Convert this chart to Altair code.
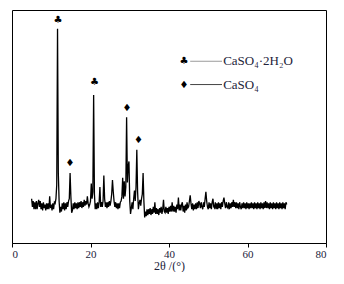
import altair as alt
import pandas as pd

# XRD pattern: intensity sampled every 0.2 degrees from 5.0 to 70.0 (2-theta)
x_start = 5.0
x_step = 0.2
intensity = [
    19, 15.5, 18, 14.5, 17.5, 14.5, 18, 14.5, 17, 18.5,
    15.5, 18, 14.5, 17, 14, 17.5, 15, 16.5, 14, 17,
    14.5, 17, 14.5, 20, 15, 16.5, 14, 17, 14.5, 17.5,
    17, 19, 25, 92, 30, 18, 13, 15.5, 13.5, 17,
    14.5, 17.5, 14, 17, 14.5, 17.5, 15.5, 18, 19, 30,
    20, 13, 14, 17, 14.5, 17.5, 15, 17, 14.5, 17.5,
    15, 17.5, 15.5, 18, 15, 17.5, 15.5, 18.5, 16, 18,
    16.5, 20, 17, 15.5, 16.5, 18, 25.5, 19, 22, 63.5,
    21, 14.5, 17, 14.5, 17.5, 15, 17.5, 24, 15.5, 17.5,
    15.5, 18, 29, 19, 15.5, 17.5, 15, 17.5, 15.5, 18,
    16, 18, 21, 27, 22, 18, 15.5, 17.5, 15, 17,
    14.5, 17, 15, 17.5, 18, 20, 28, 19, 26.5, 20,
    24, 54, 26, 33, 35, 18, 12.5, 15, 17.5, 14.5,
    19, 22.5, 18, 24, 40, 22, 14.5, 17, 18.5, 16,
    19, 21, 30, 18, 11, 13.5, 11.5, 14.5, 12, 14.5,
    12.5, 15, 12, 14.5, 12.5, 15.5, 13, 17.5, 12.5, 15,
    12.5, 14.5, 12, 15, 13, 15.5, 12.5, 14.5, 18.5, 13.5,
    13, 15.5, 13, 15, 12.5, 15.5, 13.5, 16, 13.5, 17.5,
    13.5, 16, 13.5, 15.5, 13, 16.5, 14.5, 19.5, 14, 16.5,
    14, 16.5, 17.5, 13.5, 16, 13, 16.5, 14, 17.5, 15,
    15.5, 18, 20.5, 17, 14.5, 17, 14, 16.5, 14.5, 17,
    14.5, 17.5, 15, 18, 17, 15, 17.5, 15.5, 14.5, 17.5,
    15.5, 19, 22, 18, 15.5, 14.5, 17.5, 15, 17, 14.5,
    17.5, 19, 15.5, 15, 17.5, 14.5, 17, 14.5, 17.5, 15,
    17, 14.5, 17.5, 15.5, 18, 19.5, 17, 15, 17.5, 15.5,
    15, 17.5, 14.5, 17, 15, 17.5, 15.5, 18.5, 15.5, 17.5,
    15, 17.5, 15, 17, 14.5, 17.5, 15.5, 14.5, 17, 15,
    17.5, 15, 17, 14.5, 17.5, 15, 17, 14.5, 17, 15,
    17.5, 15, 17, 14.5, 17.5, 15, 17, 14.5, 17.5, 15,
    17, 14.5, 17.5, 15, 17, 14.5, 17.5, 15, 18, 15,
    17.5, 15, 17, 14.5, 17.5, 15, 17, 14.5, 17.5, 15,
    17, 14.5, 17.5, 15, 17, 14.5, 17.5, 15, 17, 14.5,
    17.5, 15, 17, 14.5, 17.5, 16.5,
]

# peak markers
marker_x = [11.7, 21.0, 14.8, 29.3, 32.2]
marker_y = [95.5, 69, 34.5, 58, 44]
marker_sym = ["♣", "♣", "♦", "♦", "♦"]

# legend entries
legend_sym = ["♣", "♦"]
legend_label = ["CaSO₄·2H₂O", "CaSO₄"]
legend_y = [78, 68]
legend_line_color = ["#9a9a9a", "#444444"]

df = pd.DataFrame({
    "x": [round(x_start + x_step * i, 2) for i in range(len(intensity))],
    "y": intensity,
})
mk = pd.DataFrame({"x": marker_x, "y": marker_y, "s": marker_sym})
lg = pd.DataFrame({
    "sx": [43.8, 43.8], "lx1": [45.4, 45.4], "lx2": [53.5, 53.5], "tx": [53.8, 53.8],
    "y": legend_y, "s": legend_sym, "t": legend_label, "c": legend_line_color,
})

xscale = alt.Scale(domain=[0, 80], nice=False, zero=False)
yscale = alt.Scale(domain=[0, 100], nice=False, zero=False)
label_color = "#22223a"

line = alt.Chart(df).mark_line(color="black", strokeWidth=1.3).encode(
    x=alt.X("x:Q", scale=xscale,
            axis=alt.Axis(title="2θ /(°)", values=list(range(0, 81, 5)),
                          labelExpr="datum.value % 10 == 0 ? datum.label : ''",
                          grid=False, tickSize=4, tickColor="black", domainColor="black",
                          labelFont="Liberation Serif", labelFontSize=11, labelColor=label_color,
                          labelPadding=1, titleFont="Liberation Serif", titleFontSize=12,
                          titleFontWeight="normal", titleColor=label_color, titlePadding=1)),
    y=alt.Y("y:Q", scale=yscale, axis=None),
)

markers = alt.Chart(mk).mark_text(font="DejaVu Sans", fontSize=10, color="black").encode(
    x=alt.X("x:Q", scale=xscale), y=alt.Y("y:Q", scale=yscale), text="s:N"
)

leg_sym = alt.Chart(lg).mark_text(font="DejaVu Sans", fontSize=10, color="black").encode(
    x=alt.X("sx:Q", scale=xscale), y=alt.Y("y:Q", scale=yscale), text="s:N"
)
leg_line = alt.Chart(lg).mark_rule(strokeWidth=1).encode(
    x=alt.X("lx1:Q", scale=xscale), x2="lx2:Q", y=alt.Y("y:Q", scale=yscale),
    color=alt.Color("c:N", scale=None),
)
leg_text = alt.Chart(lg).mark_text(font="Liberation Serif", fontSize=13, color=label_color,
                                   align="left", baseline="middle").encode(
    x=alt.X("tx:Q", scale=xscale), y=alt.Y("y:Q", scale=yscale), text="t:N"
)

chart = alt.layer(line, markers, leg_sym, leg_line, leg_text).properties(
    width=314, height=233,
    autosize=alt.AutoSizeParams(type="none"),
    padding={"left": 4, "top": 2, "right": 10, "bottom": 29},
).configure_view(stroke="black", strokeWidth=1)

chart.save("out.html", embed_options={"renderer": "svg", "actions": False})
